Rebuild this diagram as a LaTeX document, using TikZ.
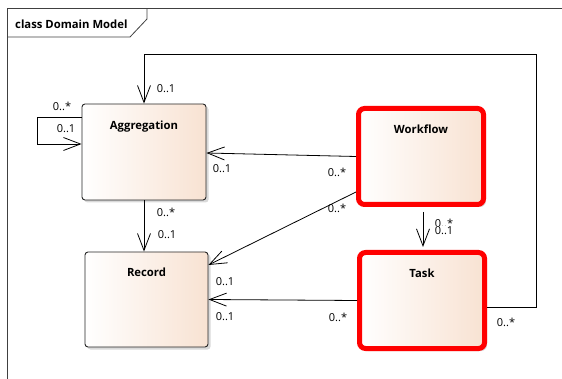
\documentclass[tikz,border=0pt]{standalone}
\usepackage{fontspec}
\setmainfont{Open Sans}
\usetikzlibrary{arrows.meta,shadows,positioning}
\definecolor{peach}{RGB}{248,226,210}
\tikzset{
  cls/.style={rounded corners=3pt, left color=white, right color=peach,
    draw=black!85, line width=0.9pt, minimum width=124pt, minimum height=96pt,
    general shadow={fill=black!15, shadow xshift=2.5pt, shadow yshift=-2.5pt}},
  hot/.style={cls, draw=red, line width=5pt, rounded corners=6pt, minimum width=125pt},
  title/.style={font=\bfseries\fontsize{11.3}{13}\selectfont, inner sep=0pt},
  mult/.style={font=\fontsize{11}{13}\selectfont, inner sep=1pt},
  assoc/.style={-{Straight Barb[length=17pt,width=13pt]}, line width=0.8pt}
}
\begin{document}
\begin{tikzpicture}[x=1pt, y=-1pt]
    \useasboundingbox (0,0) rectangle (562,379);

    % 框架
    \draw[black!75, line width=1pt] (7,379) -- (7,9) -- (562,9);
    \draw[black!75, line width=0.8pt] (7,37) -- (130,37) -- (147,19) -- (147,9);
    \node[title, anchor=west] (frameT) at (15,24) {class Domain Model};

    % 类
    \node[cls] (agg) at (144,152) {};
    \node[cls, minimum width=123pt, minimum height=95pt] (rec) at (146.5,299.5) {};
    \node[hot] (wf) at (421,156.5) {};
    \node[hot] (task) at (422,300.5) {};
    \node[title, below=17pt of agg.north] (aggT) {Aggregation};
    \node[title, below=16pt of rec.north] (recT) {Record};
    \node[title, below=19pt of wf.north] (wfT) {Workflow};
    \node[title, below=19pt of task.north] (taskT) {Task};

    % 关联
    \draw[assoc] ([yshift=35pt]agg.west) -- ++(-44,0) |- ([yshift=8pt]agg.west);
    \draw[assoc] (wf.west) -- ([yshift=-1pt]agg.east);
    \draw[assoc] ([yshift=-35.5pt]wf.west) -- ([yshift=34.5pt]rec.east);
    \draw[assoc] (task.west) -- (rec.east);
    \draw[assoc] (agg.south) -- (agg.south |- rec.north);
    \draw[assoc, shorten <=5pt, shorten >=3pt] ([xshift=2pt]wf.south) -- ([xshift=2pt]wf.south |- task.north);
    \coordinate (corner) at (536,54);
    \draw[assoc] ([yshift=-6.5pt]task.east) -| (corner) -| (agg.north);

    % 多重性
    \node[mult] (m1) at (62,106) {0..*};
    \node[mult] (m2) at (66,129) {0..1};
    \node[mult] (m3) at (222,169) {0..1};
    \node[mult] (m4) at (337,172) {0..*};
    \node[mult] (m5) at (337,208) {0..*};
    \node[mult] (m6) at (225,282) {0..1};
    \node[mult] (m7) at (225,317) {0..1};
    \node[mult] (m8) at (338,317) {0..*};
    \node[mult] (m9) at (166,212) {0..*};
    \node[mult] (m10) at (167,235) {0..1};
    \node[mult] (m11) at (444,223) {0..*};
    \node[mult, fill=white] (m12) at (444,231) {0..1};
    \node[mult] (m13) at (166,89) {0..1};
    \node[mult] (m14) at (506,322) {0..*};
\end{tikzpicture}
\end{document}
